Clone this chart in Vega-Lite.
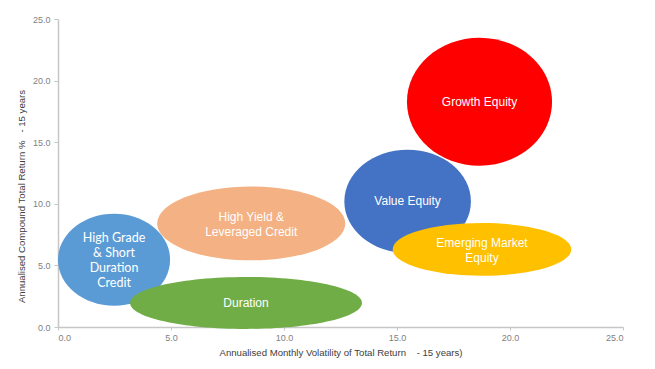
{
  "$schema": "https://vega.github.io/schema/vega-lite/v6.json",
  "width": 565,
  "height": 308,
  "autosize": {"type": "none"},
  "padding": {"left": 58, "top": 19, "right": 32, "bottom": 42},
  "background": "white",
  "config": {
    "view": {"stroke": null},
    "axis": {
      "grid": false,
      "domainColor": "#c6c6c6",
      "domainWidth": 1.5,
      "tickColor": "#c6c6c6",
      "labelFont": "Liberation Sans",
      "labelFontSize": 9,
      "labelColor": "#7f7f7f",
      "titleFont": "Liberation Sans",
      "titleFontSize": 9.6,
      "titleFontWeight": "normal",
      "titleColor": "#404040"
    }
  },
  "data": {
    "values": [
      {"asset": "High Grade", "label": "High Grade\n& Short\nDuration\nCredit", "volatility": 2.48, "return": 5.46, "rx": 2.48, "ry": 3.73},
      {"asset": "High Yield", "label": "High Yield &\nLeveraged Credit", "volatility": 8.55, "return": 8.41, "rx": 4.16, "ry": 3.0},
      {"asset": "Duration", "label": "Duration", "volatility": 8.32, "return": 1.95, "rx": 5.13, "ry": 2.11},
      {"asset": "Value Equity", "label": "Value Equity", "volatility": 15.47, "return": 10.19, "rx": 2.8, "ry": 4.19},
      {"asset": "Growth Equity", "label": "Growth  Equity", "volatility": 18.65, "return": 18.29, "rx": 3.21, "ry": 5.19},
      {"asset": "Emerging Market Equity", "label": "Emerging Market\nEquity", "volatility": 18.76, "return": 6.3, "rx": 3.95, "ry": 2.14}
    ]
  },
  "encoding": {
    "x": {
      "field": "volatility", "type": "quantitative",
      "scale": {"domain": [0, 25], "nice": false},
      "axis": {"values": [0, 5, 10, 15, 20, 25], "format": ".1f", "tickSize": 3, "labelPadding": 3, "titlePadding": 5,
               "title": "Annualised Monthly Volatility of Total Return\u00a0\u00a0\u00a0\u00a0- 15 years)"}
    },
    "y": {
      "field": "return", "type": "quantitative",
      "scale": {"domain": [0, 25], "nice": false},
      "axis": {"values": [0, 5, 10, 15, 20, 25], "format": ".1f", "tickSize": 4, "labelPadding": 4, "titlePadding": 6, "titleY": 177,
               "title": "Annualised Compound Total Return %\u00a0\u00a0\u00a0- 15 years"}
    }
  },
  "layer": [
    {
      "mark": {"type": "point", "filled": true, "opacity": 1, "strokeWidth": 0},
      "encoding": {
        "size": {"field": "rx", "type": "quantitative", "scale": {"type": "pow", "exponent": 2, "domain": [0, 10], "range": [0, 204304]}, "legend": null},
        "color": {"field": "asset", "type": "nominal", "legend": null,
          "scale": {"domain": ["High Grade", "High Yield", "Duration", "Value Equity", "Growth Equity", "Emerging Market Equity"],
                    "range": ["#5b9bd5", "#f4b183", "#70ad47", "#4472c4", "#ff0000", "#ffc000"]}},
        "shape": {"field": "asset", "type": "nominal", "legend": null,
          "scale": {"domain": ["High Grade", "High Yield", "Duration", "Value Equity", "Growth Equity", "Emerging Market Equity"],
                    "range": [
                      "M-1,0A1,0.82,0,1,1,1,0A1,0.82,0,1,1,-1,0Z",
                      "M-1,0A1,0.393,0,1,1,1,0A1,0.393,0,1,1,-1,0Z",
                      "M-1,0A1,0.224,0,1,1,1,0A1,0.224,0,1,1,-1,0Z",
                      "M-1,0A1,0.816,0,1,1,1,0A1,0.816,0,1,1,-1,0Z",
                      "M-1,0A1,0.882,0,1,1,1,0A1,0.882,0,1,1,-1,0Z",
                      "M-1,0A1,0.295,0,1,1,1,0A1,0.295,0,1,1,-1,0Z"
                    ]}}
      }
    },
    {
      "transform": [{"filter": "indexof(['Duration', 'Value Equity', 'Growth Equity'], datum.asset) >= 0"}],
      "mark": {"type": "text", "font": "Liberation Sans", "fontSize": 12, "color": "white", "align": "center", "baseline": "middle"},
      "encoding": {"text": {"field": "label"}}
    },
    {
      "transform": [{"filter": "datum.asset === 'High Yield' || datum.asset === 'Emerging Market Equity'"}],
      "mark": {"type": "text", "font": "Liberation Sans", "fontSize": 12, "color": "white", "lineBreak": "\n", "lineHeight": 15, "align": "center", "baseline": "middle", "dy": -6.5},
      "encoding": {"text": {"field": "label"}}
    },
    {
      "transform": [{"filter": "datum.asset === 'High Grade'"}],
      "mark": {"type": "text", "font": "Lato", "fontSize": 12.5, "color": "white", "lineBreak": "\n", "lineHeight": 15, "align": "center", "baseline": "middle", "dy": -22},
      "encoding": {"text": {"field": "label"}}
    },
    {
      "data": {"values": [{"text": "Global Asset Performance\nAnnualised Compound Returns and Volatility\n2009 - 2024"}]},
      "mark": {"type": "text", "font": "Lato", "fontSize": 11, "color": "#1a1a1a", "lineBreak": "\n", "lineHeight": 15, "align": "left", "baseline": "middle"},
      "encoding": {
        "x": {"datum": 1.12, "type": "quantitative"},
        "y": {"datum": 23.0, "type": "quantitative"},
        "text": {"field": "text"}
      }
    }
  ]
}
